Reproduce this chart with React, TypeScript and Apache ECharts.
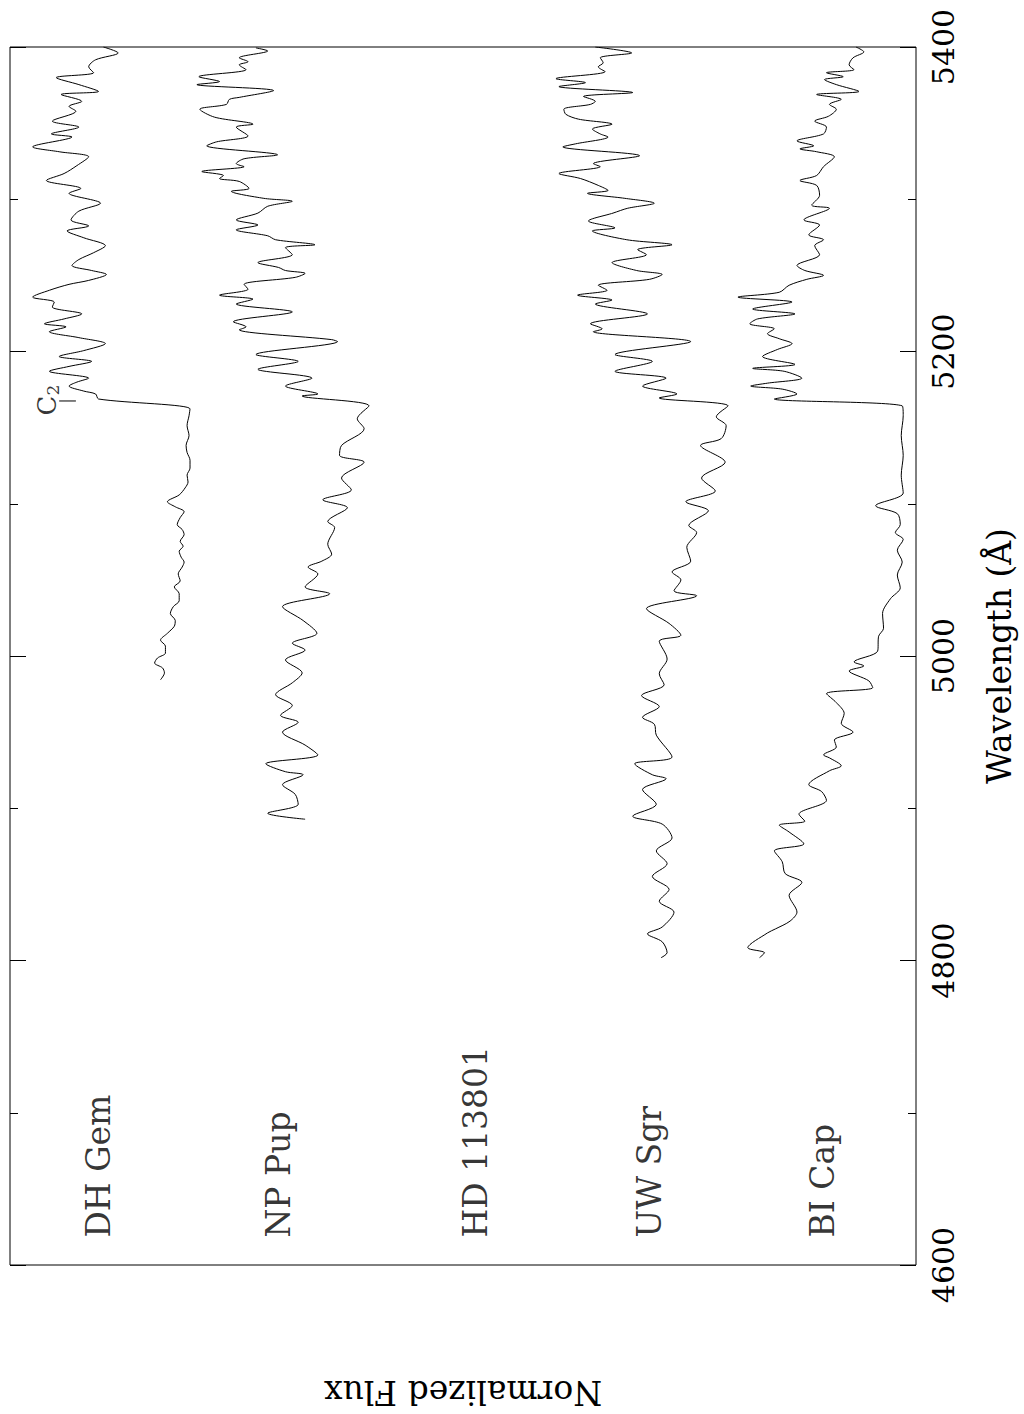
import React, { useEffect, useRef } from "react";
import * as echarts from "echarts";

// [wavelength (Å), normalized flux + offset]
const dhGem: [number, number][] = [
  [5400.0, 8.26], [5396.1, 8.11], [5391.6, 8.34], [5387.0, 8.41], [5383.1, 8.36], [5379.9, 8.74], [5375.3, 8.51],
  [5370.8, 8.31], [5368.8, 8.69], [5364.3, 8.48], [5361.0, 8.61], [5357.8, 8.54], [5351.3, 8.78], [5347.4, 8.51],
  [5342.9, 8.79], [5340.9, 8.58], [5334.4, 8.98], [5331.2, 8.71], [5327.9, 8.41], [5322.1, 8.53], [5316.9, 8.66],
  [5312.3, 8.84], [5307.1, 8.49], [5303.9, 8.61], [5297.4, 8.29], [5292.2, 8.51], [5286.4, 8.59], [5282.5, 8.41],
  [5279.2, 8.63], [5274.7, 8.46], [5269.5, 8.24], [5264.9, 8.36], [5260.4, 8.51], [5256.5, 8.58], [5253.2, 8.38],
  [5250.6, 8.23], [5246.7, 8.41], [5244.1, 8.61], [5240.2, 8.81], [5235.7, 8.98], [5232.5, 8.76], [5229.2, 8.78],
  [5224.7, 8.48], [5221.4, 8.66], [5218.2, 8.86], [5216.2, 8.64], [5213.0, 8.81], [5209.1, 8.51], [5205.2, 8.24],
  [5200.6, 8.46], [5196.7, 8.71], [5193.5, 8.38], [5190.2, 8.61], [5187.0, 8.81], [5182.5, 8.41], [5179.9, 8.53],
  [5177.3, 8.61], [5174.0, 8.46], [5172.1, 8.34], [5168.8, 8.31], [5162.3, 7.38], [5157.8, 7.39], [5151.3, 7.41],
  [5144.8, 7.39], [5138.3, 7.42], [5133.7, 7.41], [5128.6, 7.38], [5123.4, 7.38], [5118.8, 7.41], [5114.3, 7.40],
  [5110.4, 7.43], [5105.8, 7.49], [5101.3, 7.61], [5098.0, 7.53], [5094.8, 7.44], [5090.9, 7.48], [5086.3, 7.51],
  [5083.1, 7.46], [5079.8, 7.44], [5075.3, 7.48], [5072.1, 7.45], [5068.8, 7.49], [5064.9, 7.47], [5061.7, 7.44],
  [5058.4, 7.46], [5053.9, 7.50], [5049.3, 7.48], [5045.4, 7.54], [5040.9, 7.49], [5036.3, 7.49], [5032.4, 7.55],
  [5027.9, 7.58], [5023.3, 7.53], [5019.5, 7.54], [5014.9, 7.61], [5010.4, 7.68], [5006.5, 7.63], [5001.9, 7.63],
  [4998.7, 7.71], [4995.4, 7.74], [4992.2, 7.66], [4988.9, 7.64], [4984.4, 7.68],
];

const npPup: [number, number][] = [
  [5399.4, 6.71], [5397.4, 6.59], [5392.9, 6.88], [5390.3, 6.79], [5388.3, 6.88], [5385.1, 6.81], [5380.5, 7.29],
  [5377.3, 7.08], [5375.3, 7.31], [5371.4, 6.53], [5366.9, 6.88], [5365.6, 6.98], [5362.3, 7.01], [5359.1, 7.28],
  [5353.9, 7.13], [5349.3, 6.74], [5347.4, 6.91], [5341.6, 6.79], [5337.7, 7.11], [5335.1, 7.21], [5329.2, 6.49],
  [5326.6, 6.83], [5323.4, 6.91], [5321.4, 6.83], [5318.2, 7.26], [5315.6, 7.04], [5313.6, 7.08], [5311.7, 6.88],
  [5307.1, 6.78], [5305.2, 6.96], [5300.6, 6.63], [5298.7, 6.34], [5295.4, 6.59], [5290.9, 6.69], [5286.4, 6.91],
  [5283.1, 6.69], [5279.9, 6.91], [5276.0, 6.59], [5273.4, 6.51], [5270.1, 6.11], [5268.2, 6.41], [5263.6, 6.34],
  [5258.4, 6.69], [5255.2, 6.48], [5253.2, 6.41], [5251.3, 6.21], [5248.7, 6.31], [5244.1, 6.83], [5240.9, 6.79],
  [5237.0, 7.08], [5234.4, 6.74], [5231.2, 6.91], [5226.0, 6.34], [5219.5, 6.94], [5216.2, 6.81], [5214.3, 6.88],
  [5207.8, 5.94], [5206.5, 5.88], [5198.0, 6.71], [5193.5, 6.28], [5188.3, 6.69], [5182.5, 6.14], [5177.3, 6.41],
  [5172.1, 6.08], [5170.8, 6.24], [5164.3, 5.56], [5155.8, 5.68], [5149.3, 5.61], [5138.3, 5.84], [5131.8, 5.86],
  [5127.3, 5.61], [5116.9, 5.84], [5109.1, 5.74], [5102.6, 6.03], [5097.4, 5.78], [5088.3, 5.98], [5084.4, 5.91],
  [5073.4, 5.98], [5066.9, 5.94], [5062.3, 6.04], [5058.4, 6.18], [5053.9, 6.08], [5045.4, 6.21], [5040.9, 5.96],
  [5032.4, 6.44], [5023.3, 6.23], [5014.9, 6.09], [5008.4, 6.34], [5003.9, 6.21], [4997.4, 6.41], [4988.9, 6.24],
  [4982.4, 6.34], [4974.6, 6.51], [4967.5, 6.34], [4961.0, 6.46], [4956.5, 6.28], [4950.0, 6.44], [4941.5, 6.21],
  [4935.0, 6.08], [4929.2, 6.61], [4924.0, 6.41], [4922.0, 6.23], [4915.5, 6.44], [4909.1, 6.31], [4902.6, 6.28],
  [4896.7, 6.59], [4892.8, 6.21],
];

const uwSgr: [number, number][] = [
  [5400.0, 3.26], [5396.1, 2.89], [5392.9, 3.21], [5389.6, 3.18], [5387.0, 3.23], [5383.8, 3.16], [5379.2, 3.66],
  [5376.6, 3.36], [5374.0, 3.63], [5370.1, 2.88], [5367.5, 3.38], [5364.3, 3.26], [5362.3, 3.31], [5359.1, 3.58],
  [5355.8, 3.56], [5352.6, 3.43], [5349.3, 3.09], [5346.1, 3.29], [5342.9, 3.21], [5340.9, 3.13], [5336.4, 3.46],
  [5334.4, 3.59], [5328.6, 2.81], [5323.4, 3.28], [5321.4, 3.21], [5316.9, 3.63], [5313.6, 3.41], [5309.1, 3.23],
  [5305.8, 3.13], [5303.9, 3.34], [5300.6, 2.96], [5297.4, 2.66], [5294.1, 2.93], [5290.9, 3.08], [5285.7, 3.33],
  [5281.2, 3.06], [5279.2, 3.29], [5273.4, 2.94], [5270.1, 2.48], [5266.9, 2.83], [5263.6, 2.74], [5258.4, 3.09],
  [5253.2, 2.84], [5250.6, 2.58], [5247.4, 2.71], [5243.5, 3.23], [5240.2, 3.14], [5237.0, 3.44], [5233.8, 3.09],
  [5231.2, 3.26], [5224.7, 2.73], [5218.2, 3.31], [5214.9, 3.19], [5213.0, 3.28], [5206.5, 2.29], [5198.0, 3.06],
  [5193.5, 2.68], [5187.0, 3.06], [5182.5, 2.54], [5177.3, 2.78], [5172.1, 2.43], [5169.5, 2.61], [5164.3, 1.91],
  [5157.1, 2.03], [5151.3, 1.93], [5142.8, 1.98], [5138.3, 2.19], [5127.3, 1.94], [5116.9, 2.18], [5108.4, 2.04],
  [5101.3, 2.34], [5095.4, 2.11], [5085.7, 2.31], [5081.1, 2.23], [5071.4, 2.33], [5062.3, 2.29], [5055.2, 2.48],
  [5050.0, 2.39], [5042.8, 2.46], [5039.6, 2.23], [5031.1, 2.74], [5021.4, 2.51], [5013.6, 2.39], [5009.7, 2.61],
  [4998.0, 2.53], [4988.3, 2.61], [4981.1, 2.56], [4974.0, 2.79], [4966.8, 2.61], [4959.7, 2.78], [4955.2, 2.66],
  [4948.0, 2.64], [4933.7, 2.48], [4929.2, 2.86], [4922.0, 2.68], [4919.4, 2.54], [4912.3, 2.78], [4902.6, 2.64],
  [4894.8, 2.88], [4889.6, 2.58], [4880.5, 2.48], [4872.0, 2.64], [4863.6, 2.53], [4855.2, 2.68], [4846.7, 2.51],
  [4838.9, 2.61], [4831.8, 2.46], [4822.0, 2.58], [4817.5, 2.73], [4812.3, 2.58], [4805.1, 2.53], [4801.9, 2.59],
];

const biCap: [number, number][] = [
  [5400.0, 0.61], [5396.8, 0.53], [5392.9, 0.64], [5388.3, 0.68], [5385.1, 0.63], [5383.1, 0.91], [5380.5, 0.74],
  [5378.6, 0.93], [5375.3, 0.81], [5370.8, 0.58], [5368.8, 1.01], [5365.6, 0.76], [5362.3, 0.88], [5359.1, 0.81],
  [5354.5, 0.89], [5351.3, 1.03], [5347.4, 0.91], [5342.9, 0.94], [5338.3, 1.21], [5335.1, 1.04], [5333.1, 1.18],
  [5331.2, 1.01], [5327.9, 0.83], [5321.4, 0.94], [5315.6, 1.01], [5312.3, 1.18], [5309.1, 1.01], [5302.6, 0.98],
  [5296.1, 1.06], [5294.1, 0.88], [5286.4, 1.14], [5283.1, 0.98], [5276.6, 1.09], [5273.4, 0.94], [5269.5, 1.03],
  [5263.6, 0.98], [5256.5, 1.21], [5253.2, 1.13], [5250.0, 0.94], [5247.4, 1.11], [5243.5, 1.29], [5238.9, 1.39],
  [5235.7, 1.81], [5232.5, 1.26], [5227.9, 1.66], [5224.7, 1.23], [5221.4, 1.61], [5218.2, 1.69], [5214.9, 1.44],
  [5211.7, 1.51], [5208.4, 1.39], [5205.2, 1.26], [5201.3, 1.41], [5196.7, 1.56], [5191.5, 1.23], [5188.9, 1.66],
  [5187.0, 1.34], [5182.5, 1.16], [5179.2, 1.51], [5177.3, 1.68], [5175.3, 1.36], [5172.1, 1.21], [5168.8, 1.44],
  [5164.3, 0.14], [5157.8, 0.13], [5144.8, 0.15], [5131.8, 0.13], [5118.8, 0.15], [5107.1, 0.13], [5098.7, 0.41],
  [5093.5, 0.19], [5086.3, 0.16], [5081.1, 0.21], [5076.6, 0.13], [5069.5, 0.19], [5061.7, 0.14], [5053.2, 0.19],
  [5044.8, 0.16], [5037.6, 0.26], [5027.9, 0.34], [5018.2, 0.33], [5013.0, 0.38], [5003.2, 0.39], [4996.1, 0.63],
  [4993.5, 0.53], [4990.2, 0.68], [4983.7, 0.48], [4979.2, 0.44], [4975.3, 0.91], [4969.4, 0.81], [4962.3, 0.73],
  [4955.8, 0.76], [4950.0, 0.64], [4944.8, 0.83], [4940.2, 0.81], [4935.0, 0.94], [4933.1, 0.88], [4927.9, 0.76],
  [4924.6, 0.88], [4915.5, 1.09], [4911.0, 0.96], [4905.2, 0.91], [4896.1, 1.19], [4891.5, 1.13], [4888.9, 1.39],
  [4884.4, 1.29], [4876.6, 1.14], [4872.0, 1.44], [4864.9, 1.36], [4857.1, 1.33], [4851.3, 1.16], [4842.8, 1.29],
  [4831.8, 1.21], [4825.9, 1.28], [4820.7, 1.43], [4818.1, 1.51], [4808.4, 1.71], [4805.1, 1.54], [4801.9, 1.59],
];

const starNames = ["DH Gem", "NP Pup", "HD 113801", "UW Sgr", "BI Cap"];
const starLabelFlux = [8.31, 6.48, 4.48, 2.71, 0.95];
const starLabelWave = 4618;

// C2 band-head marker
const c2Label: [number, number] = [8.83, 5158];
const c2Tick: [number, number][] = [[8.71, 5167.5], [8.54, 5167.5]];

const WAVE_MIN = 4600;
const WAVE_MAX = 5400;
const WAVE_STEP = 200;
const FLUX_MIN = 0;
const FLUX_MAX = 9.21;

const FONT = "DejaVu Serif";

export default function App() {
  const ref = useRef<HTMLDivElement>(null);

  useEffect(() => {
    if (!ref.current) return;
    const chart = echarts.init(ref.current, null, { renderer: "svg" });

    const spectra = [dhGem, npPup, uwSgr, biCap];
    const lineSeries = spectra.map((s) => ({
      type: "line",
      data: s.map(([w, f]) => [f, w]),
      showSymbol: false,
      symbol: "none",
      smooth: 0.3,
      lineStyle: { color: "#000", width: 1 },
      silent: true,
      z: 3,
    }));

    const yAxisCommon = {
      type: "value",
      min: WAVE_MIN,
      max: WAVE_MAX,
      interval: WAVE_STEP,
      axisLine: { show: false },
      splitLine: { show: false },
      axisTick: { show: true, inside: true, length: 16, lineStyle: { color: "#000", width: 1 } },
      minorTick: { show: true, splitNumber: 2, length: 8, lineStyle: { color: "#000", width: 1 } },
      minorSplitLine: { show: false },
    };

    const option: any = {
      animation: false,
      backgroundColor: "#fff",
      grid: {
        left: 10,
        right: 93,
        top: 47,
        bottom: 135,
        show: true,
        borderColor: "#000",
        borderWidth: 1,
        backgroundColor: "transparent",
      },
      xAxis: {
        type: "value",
        min: FLUX_MIN,
        max: FLUX_MAX,
        inverse: true,
        axisLine: { show: false },
        axisTick: { show: false },
        axisLabel: { show: false },
        splitLine: { show: false },
        name: "Normalized Flux",
        nameLocation: "middle",
        nameRotate: 180,
        nameGap: 111,
        nameTextStyle: { fontFamily: FONT, fontSize: 33, color: "#000" },
      },
      yAxis: [
        {
          ...yAxisCommon,
          position: "right",
          axisLabel: {
            show: true,
            rotate: 90,
            margin: 12,
            fontFamily: FONT,
            fontSize: 30,
            color: "#000",
            formatter: (v: number) => String(v),
          },
          name: "Wavelength (Å)",
          nameLocation: "middle",
          nameRotate: 90,
          nameGap: 67,
          nameTextStyle: { fontFamily: FONT, fontSize: 33, color: "#000" },
        },
        {
          ...yAxisCommon,
          position: "left",
          axisLabel: { show: false },
        },
      ],
      series: [
        ...lineSeries,
        {
          type: "line",
          data: c2Tick,
          showSymbol: false,
          symbol: "none",
          lineStyle: { color: "#000", width: 1 },
          silent: true,
        },
        {
          type: "scatter",
          symbolSize: 0.001,
          silent: true,
          data: starNames.map((n, i) => [starLabelFlux[i], starLabelWave, n]),
          label: {
            show: true,
            position: "inside",
            rotate: 90,
            align: "left",
            verticalAlign: "middle",
            fontFamily: FONT,
            fontSize: 33,
            color: "#000",
            formatter: (p: any) => p.data[2],
          },
        },
        {
          type: "scatter",
          symbolSize: 0.001,
          silent: true,
          data: [c2Label],
          label: {
            show: true,
            position: "inside",
            rotate: 90,
            align: "left",
            verticalAlign: "middle",
            formatter: "{c|C}{s|2}",
            rich: {
              c: { fontFamily: FONT, fontSize: 26, color: "#000" },
              s: { fontFamily: FONT, fontSize: 17, color: "#000", padding: [12, 0, 0, 0] },
            },
          },
        },
      ],
    };

    chart.setOption(option);
    return () => chart.dispose();
  }, []);

  return (
    <div
      ref={ref}
      style={{ position: "absolute", left: 0, top: 0, width: 1024, height: 1414, background: "#fff" }}
    />
  );
}
